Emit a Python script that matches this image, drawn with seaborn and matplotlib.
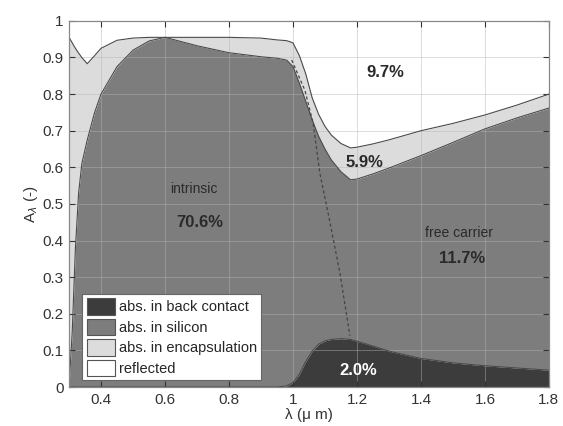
import numpy as np
import pandas as pd
import matplotlib
matplotlib.use("Agg")
import matplotlib.pyplot as plt
from matplotlib.patches import Patch
import seaborn as sns

# wavelength grid (um)
wavelength = [0.30, 0.31, 0.32, 0.33, 0.34, 0.357, 0.38, 0.40, 0.45, 0.50, 0.55, 0.60,
              0.70, 0.80, 0.90, 0.95, 0.98, 1.00, 1.02, 1.04, 1.06, 1.08, 1.10, 1.12,
              1.15, 1.18, 1.20, 1.25, 1.30, 1.40, 1.50, 1.60, 1.70, 1.80]
# cumulative boundaries of the stacked areas
back_contact = [0, 0, 0, 0, 0, 0, 0, 0, 0, 0, 0, 0,
                0, 0, 0, 0.0, 0.003, 0.012, 0.035, 0.07, 0.098, 0.117, 0.126, 0.13,
                0.132, 0.13, 0.125, 0.112, 0.098, 0.078, 0.066, 0.058, 0.052, 0.046]
silicon_top = [0.0, 0.15, 0.38, 0.53, 0.61, 0.675, 0.75, 0.80, 0.875, 0.92, 0.945, 0.955,
               0.932, 0.913, 0.902, 0.898, 0.893, 0.875, 0.83, 0.78, 0.73, 0.685, 0.65, 0.62,
               0.588, 0.566, 0.568, 0.582, 0.598, 0.632, 0.668, 0.705, 0.735, 0.762]
encaps_top = [0.955, 0.94, 0.925, 0.912, 0.90, 0.883, 0.905, 0.925, 0.947, 0.953, 0.955, 0.955,
              0.955, 0.955, 0.953, 0.948, 0.946, 0.94, 0.905, 0.855, 0.79, 0.745, 0.712, 0.688,
              0.665, 0.653, 0.655, 0.664, 0.675, 0.70, 0.72, 0.743, 0.77, 0.80]
# intrinsic / free-carrier separation (dashed)
sep_x = [0.996, 1.0375, 1.063, 1.084, 1.116, 1.147, 1.178]
sep_y = [0.893, 0.81, 0.72, 0.584, 0.448, 0.31, 0.14]

legend_labels = ["abs. in back contact", "abs. in silicon", "abs. in encapsulation", "reflected"]
fill_colors = ["#3c3c3c", "#7d7d7d", "#dcdcdc", "#ffffff"]

sns.set_style("ticks")
plt.rcParams['font.family'] = ['Liberation Sans', 'DejaVu Sans']

fig = plt.figure(figsize=(5.63, 4.26), dpi=100)
ax = fig.add_axes([0.1226, 0.0915, 0.8524, 0.8595])

df = pd.DataFrame({"wl": wavelength, "bc": back_contact, "si": silicon_top, "enc": encaps_top})
wl = df["wl"].values
ax.fill_between(wl, 0, df["bc"], color=fill_colors[0], lw=0, zorder=1)
ax.fill_between(wl, df["bc"], df["si"], color=fill_colors[1], lw=0, zorder=1)
ax.fill_between(wl, df["si"], df["enc"], color=fill_colors[2], lw=0, zorder=1)
ax.fill_between(wl, df["enc"], 1, color=fill_colors[3], lw=0, zorder=1)

for col in ["bc", "si", "enc"]:
    sns.lineplot(data=df, x="wl", y=col, ax=ax, color="#4a4a4a", lw=0.8, zorder=3)
sns.lineplot(x=sep_x, y=sep_y, ax=ax, color="#444444", lw=0.9, linestyle=(0, (2.5, 2)), zorder=3)

ax.set_xlim(0.3, 1.8)
ax.set_ylim(0, 1)
ax.set_xticks([0.4, 0.6, 0.8, 1.0, 1.2, 1.4, 1.6, 1.8])
ax.set_xticklabels(["0.4", "0.6", "0.8", "1", "1.2", "1.4", "1.6", "1.8"])
ax.set_yticks(np.round(np.arange(0, 1.01, 0.1), 1))
ax.set_yticklabels(["0", "0.1", "0.2", "0.3", "0.4", "0.5", "0.6", "0.7", "0.8", "0.9", "1"])
ax.grid(True, color="#b4b4b4", alpha=0.45, lw=0.7, zorder=2)
ax.set_axisbelow(False)
ax.tick_params(direction="in", top=True, right=True, labelsize=11, colors="#333333",
               length=4, width=0.8, pad=4)
for s in ax.spines.values():
    s.set_color("#888888")
    s.set_linewidth(0.9)
    s.set_zorder(4)

ax.set_xlabel("λ (μ m)", fontsize=11, color="#333333", labelpad=1)
ax.set_ylabel(r"A$_\lambda$ (-)", fontsize=11, color="#333333", labelpad=2)

txt = "#2a2a2a"
ax.text(0.69, 0.54, "intrinsic", fontsize=10, color=txt, ha="center", va="center", zorder=5)
ax.text(0.71, 0.45, "70.6%", fontsize=12, fontweight="bold", color=txt, ha="center", va="center", zorder=5)
ax.text(1.29, 0.86, "9.7%", fontsize=12, fontweight="bold", color=txt, ha="center", va="center", zorder=5)
ax.text(1.225, 0.613, "5.9%", fontsize=12, fontweight="bold", color=txt, ha="center", va="center", zorder=5)
ax.text(1.52, 0.42, "free carrier", fontsize=10, color=txt, ha="center", va="center", zorder=5)
ax.text(1.53, 0.35, "11.7%", fontsize=12, fontweight="bold", color=txt, ha="center", va="center", zorder=5)
ax.text(1.205, 0.045, "2.0%", fontsize=12, fontweight="bold", color="white", ha="center", va="center", zorder=5)

handles = [Patch(facecolor=c, edgecolor="#555555", lw=0.8) for c in fill_colors]
leg = ax.legend(handles, legend_labels, loc="lower left", bbox_to_anchor=(0.022, 0.01),
                fontsize=10.5, frameon=True, fancybox=False, edgecolor="#666666",
                facecolor="white", framealpha=1.0,
                handlelength=1.9, handleheight=1.35, handletextpad=0.3, labelspacing=0.28,
                borderpad=0.3, borderaxespad=0.2)
leg.get_frame().set_linewidth(0.8)
leg.set_zorder(6)

fig.savefig("out.png", dpi=100, facecolor="white")
